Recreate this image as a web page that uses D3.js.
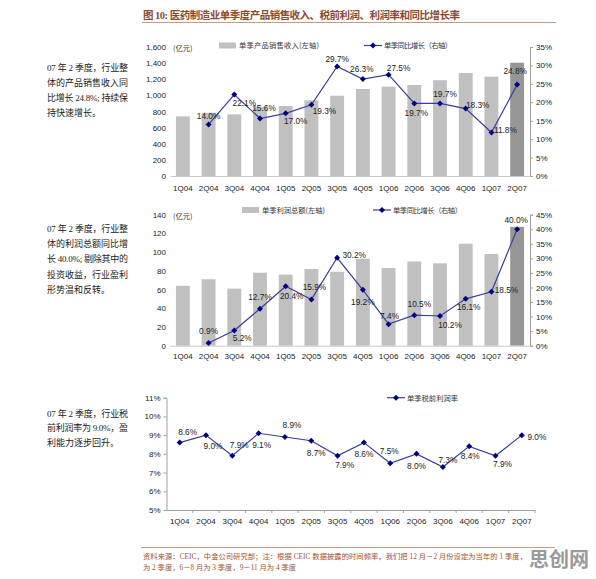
<!DOCTYPE html>
<html>
<head>
<meta charset="utf-8">
<script src="https://cdn.jsdelivr.net/npm/d3@7"></script>
<style>
body { margin: 0; background: #fff; }
svg text { font-family: "Liberation Sans", Arial, sans-serif; }
svg .cn { font-family: "Noto Sans CJK SC", sans-serif; }
svg .mix { font-family: "Liberation Serif", "Noto Sans CJK SC", serif; }
</style>
</head>
<body>
<svg id="fig" width="596" height="579"></svg>
<script>
// 数据
const quarters = ['1Q04','2Q04','3Q04','4Q04','1Q05','2Q05','3Q05','4Q05','1Q06','2Q06','3Q06','4Q06','1Q07','2Q07'];
const salesRevenue = [740, 785, 765, 860, 868, 939, 996, 1079, 1108, 1129, 1187, 1278, 1232, 1405];
const salesGrowth = [null, 14.0, 22.1, 15.6, 17.0, 19.3, 29.7, 26.3, 27.5, 19.7, 19.7, 18.3, 11.8, 24.8];
const profitTotal = [64, 71, 61, 78, 76, 82, 79, 93, 83, 90, 88, 109, 98, 127];
const profitGrowth = [null, 0.9, 5.2, 12.7, 20.4, 15.9, 30.2, 19.2, 7.4, 10.5, 10.2, 16.1, 18.5, 40.0];
const profitMargin = [8.6, 9.0, 7.9, 9.1, 8.9, 8.7, 7.9, 8.6, 7.5, 8.0, 7.3, 8.4, 7.9, 9.0];

// 刻度
const revenueTicks = [0, 200, 400, 600, 800, 1000, 1200, 1400, 1600];
const salesGrowthTicks = [0, 5, 10, 15, 20, 25, 30, 35];
const profitTicks = [0, 20, 40, 60, 80, 100, 120, 140];
const profitGrowthTicks = [0, 5, 10, 15, 20, 25, 30, 35, 40, 45];
const marginTicks = [5, 6, 7, 8, 9, 10, 11];

// 标签位置微调 (dx, dy)
const salesNudge = [null,[0,-8],[10,9],[4,-10],[10,8],[13,6],[0,-7],[-1,-10],[10,-7],[2,10],[5,-9],[12,-3],[14,-2],[-2,-13]];
const profitNudge = [null,[0,-12],[8,8],[0,-12],[6,10],[3,-12],[17,-3],[0,12],[1,-8],[5,-11],[10,9],[3,8],[15,-2],[-1,-9]];
const marginNudge = [[8,-11],[7,11],[7,-11],[3,12],[7,-12],[5,12],[7,9],[0,11],[-1,-12],[0,12],[5,-7],[1,10],[7,8],[15,2]];

const svg = d3.select('#fig');
const BAR = '#c0c0c0', BAR_LAST = '#969696', LINE = '#3c3c9c', MARK = '#000080', AXIS = '#a0a0a0';
const diamond = d3.symbol(d3.symbolSquare, 18);

// 标题
svg.append('text').attr('class', 'mix')
    .attr('x', 143).attr('y', 19)
    .attr('textLength', 317).attr('lengthAdjust', 'spacing')
    .style('font-size', '10.5px').style('font-weight', 'bold').attr('fill', '#8c4a2f')
    .text('图 10: 医药制造业单季度产品销售收入、税前利润、利润率和同比增长率');
svg.append('line').attr('x1', 142).attr('x2', 556).attr('y1', 22.5).attr('y2', 22.5)
    .attr('stroke', '#c49a85').attr('stroke-width', 1);

// 左侧说明
function note(lines, y0, step) {
    lines.forEach(function(t, i) {
        let tx = svg.append('text').attr('class', 'mix')
            .attr('x', 47).attr('y', y0 + i * step)
            .style('font-size', '9px').attr('fill', '#222').text(t);
        if (i < lines.length - 1) tx.attr('textLength', 81).attr('lengthAdjust', 'spacing');
    });
}
note(['07 年 2 季度，行业整', '体的产品销售收入同', '比增长 24.8%; 持续保', '持快速增长。'], 70.5, 15.2);
note(['07 年 2 季度，行业整', '体的利润总额同比增', '长 40.0%; 剔除其中的', '投资收益，行业盈利', '形势温和反转。'], 232, 15.2);
note(['07 年 2 季度，行业税', '前利润率为 9.0%，盈', '利能力逐步回升。'], 416.5, 14.5);

function labels(g, x, y, values, nudge, fmt) {
    g.selectAll('.lbl').data(values.map(function(v, i) { return {v: v, q: quarters[i], n: nudge[i]}; })
        .filter(function(d) { return d.v != null; }))
        .enter().append('text')
        .attr('x', function(d) { return x(d.q) + x.bandwidth() / 2 + d.n[0]; })
        .attr('y', function(d) { return y(d.v) + d.n[1]; })
        .attr('dy', '0.35em').attr('text-anchor', 'middle')
        .style('font-size', '8.3px').attr('fill', '#222')
        .text(function(d) { return fmt(d.v); });
}

function lineAndMarks(g, x, y, values) {
    let pts = values.map(function(v, i) { return {v: v, q: quarters[i]}; }).filter(function(d) { return d.v != null; });
    g.append('path').datum(pts)
        .attr('fill', 'none').attr('stroke', LINE).attr('stroke-width', 1.2)
        .attr('d', d3.line()
            .x(function(d) { return x(d.q) + x.bandwidth() / 2; })
            .y(function(d) { return y(d.v); }));
    g.selectAll('.mk').data(pts).enter().append('path')
        .attr('d', diamond).attr('fill', MARK)
        .attr('transform', function(d) { return 'translate(' + (x(d.q) + x.bandwidth() / 2) + ',' + y(d.v) + ') rotate(45)'; });
}

function lineLegend(x1, x2, y, tx, text, len) {
    svg.append('line').attr('x1', x1).attr('x2', x2).attr('y1', y).attr('y2', y)
        .attr('stroke', LINE).attr('stroke-width', 1.2);
    svg.append('path').attr('d', diamond).attr('fill', MARK)
        .attr('transform', 'translate(' + ((x1 + x2) / 2) + ',' + y + ') rotate(45)');
    svg.append('text').attr('class', 'cn').attr('x', tx).attr('y', y + 2.8)
        .attr('textLength', len).attr('lengthAdjust', 'spacing')
        .style('font-size', '7.3px').attr('fill', '#333').text(text);
}

// 柱线组合图
function drawCombo(o) {
    let g = svg.append('g');
    let x = d3.scaleBand().domain(quarters).range([170, 530]).paddingInner(0.46).paddingOuter(0.23);
    let yL = d3.scaleLinear().domain([o.leftTicks[0], o.leftTicks[o.leftTicks.length - 1]]).range([o.bottom, o.top]);
    let yR = d3.scaleLinear().domain([o.rightTicks[0], o.rightTicks[o.rightTicks.length - 1]]).range([o.bottom, o.top]);

    g.selectAll('.bar').data(o.bars.map(function(v, i) { return {v: v, q: quarters[i]}; }))
        .enter().append('rect')
        .attr('x', function(d) { return x(d.q); })
        .attr('width', x.bandwidth())
        .attr('y', function(d) { return yL(d.v); })
        .attr('height', function(d) { return o.bottom - yL(d.v); })
        .attr('fill', function(d, i) { return i == quarters.length - 1 ? BAR_LAST : BAR; });

    g.append('g').attr('transform', 'translate(170,0)')
        .call(d3.axisLeft(yL).tickValues(o.leftTicks).tickSize(0).tickPadding(4).tickFormat(d3.format(',')))
        .call(function(a) { a.select('.domain').remove(); });
    g.append('g').attr('transform', 'translate(530,0)')
        .call(d3.axisRight(yR).tickValues(o.rightTicks).tickSize(3).tickPadding(3).tickFormat(function(d) { return d + '%'; }))
        .call(function(a) { a.select('.domain').attr('stroke', AXIS); a.selectAll('.tick line').attr('stroke', AXIS); });
    g.append('g').attr('transform', 'translate(0,' + o.bottom + ')')
        .call(d3.axisBottom(x).tickSize(0).tickPadding(o.xPad))
        .call(function(a) { a.select('.domain').attr('stroke', '#c8c8c8'); });
    g.selectAll('.tick text').style('font-size', '8px').attr('fill', '#222');

    lineAndMarks(g, x, yR, o.line);
    labels(g, x, yR, o.line, o.nudge, function(v) { return v.toFixed(1) + '%'; });

    svg.append('text').attr('class', 'cn').attr('x', 173).attr('y', o.top + 4)
        .style('font-size', '7.3px').attr('fill', '#333').text('(亿元)');
    svg.append('rect').attr('x', o.barLeg[0]).attr('y', o.barLeg[1] - 3).attr('width', 17).attr('height', 6).attr('fill', BAR);
    svg.append('text').attr('class', 'cn').attr('x', o.barLeg[0] + 20).attr('y', o.barLeg[1] + 2.8)
        .attr('textLength', o.barLeg[2]).attr('lengthAdjust', 'spacing')
        .style('font-size', '7.3px').attr('fill', '#333').text(o.barText);
    lineLegend(o.lineLeg[0], o.lineLeg[0] + 18, o.barLeg[1], o.lineLeg[0] + 20, '单季同比增长（右轴）', o.lineLeg[1]);
}

drawCombo({
    top: 47, bottom: 176, xPad: 9,
    bars: salesRevenue, line: salesGrowth, nudge: salesNudge,
    leftTicks: revenueTicks, rightTicks: salesGrowthTicks,
    barLeg: [219, 45.5, 80], barText: '单季产品销售收入(左轴)',
    lineLeg: [364, 68]
});

drawCombo({
    top: 214.7, bottom: 345.7, xPad: 7.5,
    bars: profitTotal, line: profitGrowth, nudge: profitNudge,
    leftTicks: profitTicks, rightTicks: profitGrowthTicks,
    barLeg: [242, 210, 63], barText: '单季利润总额(左轴)',
    lineLeg: [373, 69]
});

// 利润率折线图
(function() {
    let g = svg.append('g');
    let x = d3.scaleBand().domain(quarters).range([166.5, 535]);
    let y = d3.scaleLinear().domain([marginTicks[0], marginTicks[marginTicks.length - 1]]).range([510, 397.7]);

    g.append('g').attr('transform', 'translate(166.5,0)')
        .call(d3.axisLeft(y).tickValues(marginTicks).tickSize(3).tickPadding(3).tickFormat(function(d) { return d + '%'; }))
        .call(function(a) { a.select('.domain').attr('stroke', AXIS); a.selectAll('.tick line').attr('stroke', AXIS); });
    g.append('g').attr('transform', 'translate(0,510)')
        .call(d3.axisBottom(x).tickSize(0).tickPadding(8))
        .call(function(a) { a.select('.domain').attr('stroke', AXIS); });
    g.selectAll('.sep').data(quarters).enter().append('line')
        .attr('x1', function(d) { return x(d) + x.bandwidth(); })
        .attr('x2', function(d) { return x(d) + x.bandwidth(); })
        .attr('y1', 510).attr('y2', 513).attr('stroke', AXIS);
    g.selectAll('.tick text').style('font-size', '8px').attr('fill', '#222');

    lineAndMarks(g, x, y, profitMargin);
    labels(g, x, y, profitMargin, marginNudge, function(v) { return v.toFixed(1) + '%'; });
    lineLegend(387, 405, 397.7, 407, '单季税前利润率', 51);
})();

// 资料来源
svg.append('line').attr('x1', 141).attr('x2', 555).attr('y1', 547.5).attr('y2', 547.5)
    .attr('stroke', '#c49a85').attr('stroke-width', 1);
svg.append('text').attr('class', 'mix').attr('x', 143).attr('y', 559)
    .attr('textLength', 384).attr('lengthAdjust', 'spacing')
    .style('font-size', '7.3px').attr('fill', '#a0522d')
    .text('资料来源：CEIC，中金公司研究部；注：根据 CEIC 数据披露的时间频率，我们把 12 月－2 月份设定为当年的 1 季度，');
svg.append('text').attr('class', 'mix').attr('x', 143).attr('y', 569.5)
    .attr('textLength', 153).attr('lengthAdjust', 'spacing')
    .style('font-size', '7.3px').attr('fill', '#a0522d')
    .text('为 2 季度，6－8 月为 3 季度，9－11 月为 4 季度');
svg.append('text').attr('class', 'cn').attr('x', 529).attr('y', 567)
    .style('font-size', '20px').style('font-weight', 'bold').attr('fill', '#9a9a9a')
    .text('思创网');
</script>
</body>
</html>
